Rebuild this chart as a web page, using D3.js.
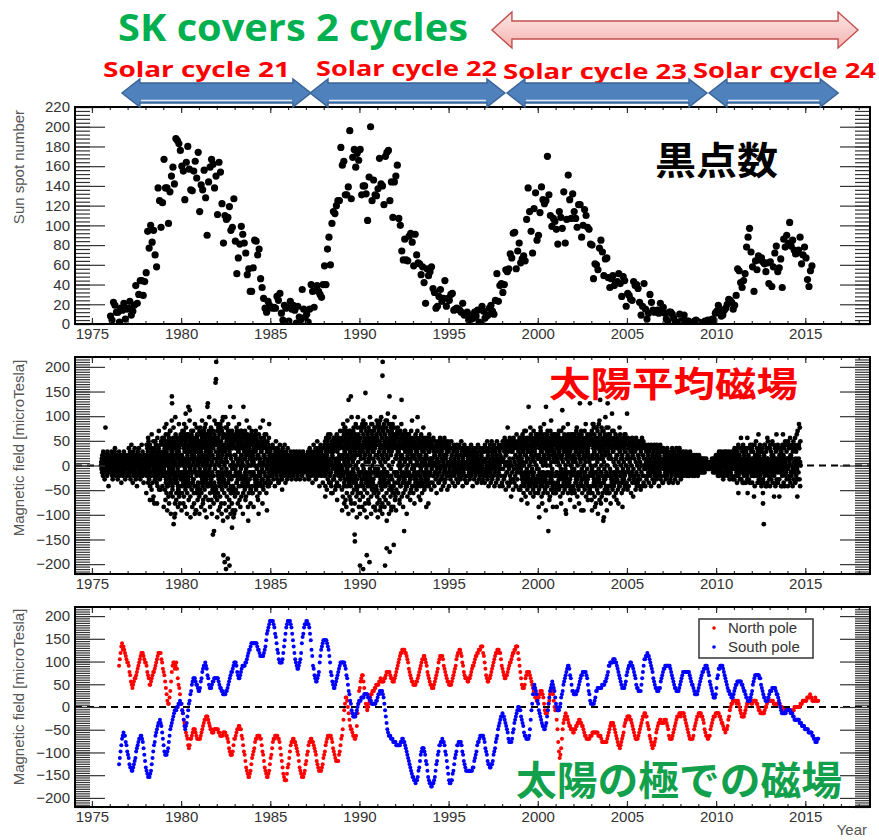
<!DOCTYPE html>
<html>
<head>
<meta charset="utf-8">
<script src="https://cdn.jsdelivr.net/npm/d3@7"></script>
<style>
  body { margin: 0; background: #fff; }
  svg { display: block; }
  .tick text { font-family: "Liberation Sans", Arial, sans-serif; font-size: 15px; fill: #333; }
  .tick line { stroke: #333; stroke-width: 1.2; }
</style>
</head>
<body>
<svg id="chart" width="879" height="840"></svg>
<script>
// ---------------- data ----------------
const yearTicks = [1975, 1980, 1985, 1990, 1995, 2000, 2005, 2010, 2015];

// Monthly sunspot number, one row per year starting 1976
const sunspotFirstYear = 1976;
const sunspotMonthly = [
  [8, 4, 22, 19, 12, 12, 2, 16, 14, 21, 5, 15],
  [16, 23, 9, 13, 19, 39, 21, 30, 44, 44, 29, 43],
  [52, 94, 77, 100, 83, 95, 70, 58, 138, 125, 98, 123],
  [167, 138, 138, 102, 134, 150, 159, 142, 188, 186, 183, 176],
  [160, 155, 126, 164, 180, 157, 136, 135, 155, 165, 148, 174],
  [114, 141, 136, 156, 128, 90, 144, 159, 167, 162, 138, 150],
  [111, 164, 154, 122, 82, 110, 106, 108, 119, 95, 98, 127],
  [84, 51, 67, 81, 99, 91, 82, 72, 50, 56, 33, 33],
  [57, 85, 84, 70, 76, 46, 37, 26, 16, 12, 23, 19],
  [17, 16, 17, 16, 28, 24, 31, 11, 4, 19, 16, 17],
  [3, 23, 15, 19, 14, 1, 18, 7, 4, 35, 15, 7],
  [10, 2, 15, 40, 33, 17, 34, 39, 33, 30, 27, 40],
  [59, 40, 76, 88, 60, 102, 114, 112, 120, 125, 125, 179],
  [161, 165, 131, 131, 139, 196, 127, 169, 177, 159, 173, 166],
  [177, 131, 140, 140, 132, 105, 149, 200, 125, 146, 131, 130],
  [137, 168, 142, 140, 121, 170, 174, 176, 125, 144, 108, 144],
  [150, 161, 107, 100, 74, 65, 86, 65, 64, 89, 92, 83],
  [59, 91, 70, 62, 61, 50, 58, 42, 21, 56, 49, 53],
  [58, 36, 32, 16, 18, 28, 35, 23, 26, 44, 18, 26],
  [24, 30, 31, 14, 15, 16, 15, 14, 12, 21, 9, 10],
  [12, 4, 9, 5, 6, 12, 8, 14, 2, 1, 18, 13],
  [6, 8, 9, 16, 19, 13, 10, 24, 51, 23, 39, 41],
  [32, 40, 55, 53, 56, 71, 67, 92, 93, 56, 74, 82],
  [62, 66, 69, 64, 106, 138, 114, 94, 72, 117, 133, 85],
  [90, 113, 139, 126, 122, 125, 170, 131, 110, 99, 107, 104],
  [96, 81, 114, 108, 97, 134, 82, 106, 151, 126, 107, 132],
  [114, 107, 98, 121, 121, 88, 100, 116, 110, 98, 96, 81],
  [80, 46, 61, 60, 55, 77, 85, 73, 49, 66, 67, 47],
  [37, 46, 49, 39, 42, 43, 51, 41, 28, 48, 44, 18],
  [31, 29, 25, 24, 43, 39, 40, 36, 22, 9, 18, 41],
  [15, 5, 11, 30, 22, 14, 12, 13, 14, 11, 21, 14],
  [17, 11, 5, 3, 12, 12, 10, 6, 2, 1, 2, 10],
  [3, 2, 9, 3, 3, 3, 1, 1, 1, 3, 4, 1],
  [2, 1, 1, 1, 3, 3, 4, 0, 4, 5, 4, 11],
  [13, 19, 15, 8, 9, 14, 16, 20, 25, 24, 22, 15],
  [19, 29, 56, 54, 42, 37, 44, 51, 78, 88, 97, 73],
  [58, 33, 64, 55, 69, 65, 67, 63, 61, 53, 62, 41],
  [63, 38, 58, 72, 79, 53, 57, 66, 37, 86, 78, 90],
  [82, 103, 79, 85, 75, 71, 72, 75, 88, 61, 70, 78],
  [67, 45, 38, 54, 59]
];

// Field values packed one character per sample: value = (index in alphabet - 31) * 7 microTesla
const codeAlphabet = "0123456789ABCDEFGHIJKLMNOPQRSTUVWXYZabcdefghijklmnopqrstuvwxyz";
const codeZero = 31, codeStep = 7;

// Mean solar magnetic field, one entry per calendar year from 1975 (record 1975.5 - 2014.75).
// "|" separates interleaved sample runs that each span the whole year.
const meanFieldFirstYear = 1975, meanFieldStart = 1975.5, meanFieldEnd = 2014.75;
const meanField = [
  "VWUXTYVSZWUVXRWYgVTUXWSZVYUPWVXT",
  "WVXUTYZWSVRXWUVYTZaWVSUXWTVYRXVUWZSTVXYWUQVWTXSVYUZWVTXRWVUYSXWV",
  "XVWTaUYSZVRWXbUTVYQWZSVXUaTWVRYXSPWVZUXTaVWSYRVXUWbTVZSWXQVYUTWV",
  "WUXYbSVaTZQWcVRXUbPYWVSaOTZXLVWcUYSKaVTXRbWZQVUdYSWTaVOXZRWbVUcTYSWPVXZ|NdLeMcKfOd|XSYTaQZRbPXTYS",
  "XbUdTVaOcWSeRZNXbVPcYTaMWdUSbQXfVNYcTZpnWOaUdSEXbRVcKHWeTaNYbVQdUXOcSZaMWbTVdRXc|JgLhIeKfHiMgGjLdJhKe|XSYTaQZRbPXTYSaRbQZPXTYSaQbRZSYPOcNdPb",
  "YcTeNWbPdVRfMXaSeUcOkWZQdTbNVeRXmaPWcTlUdMZbSVeOXcQaTfRWdNYbUHcVPaXIdSZeTWbQVcNX|IfKhJgHeLiGfJdKhIgLe|SYTXQaRZPbTXSYRaQbPZSXTYQaRbPZTXNdOcPb",
  "aMfUcOWeSZbNXdQfTVcLYeRWbOgUdMaXSeQVcTmWnbPZfSdUXaNeVRcYLbWdTOfBaSXcCQeVUbMtZuzdW|HgJiKfIhGeLjJgHfKiMh|YTXSZQaRPbYSXTQZRaPbYTXSaQZRbPYSOcNdPbOc",
  "bLfTdNYgRcVPeXaMhSWcKbUfOZdQjW5eRbNV3aTgPX1dUcMWeQ4fSbOYdL2aTmVcNXeRbKfUaPWdSjVcOY|GfIhJgHiFeKjIgGhJfHeDIGH|XSYTaQZRbPXTYSaRbQZPXTYSaQbRZSYPNdOcPbNd",
  "cMeUaOXdQVfSbNWcRZeTaLXdPVfUbMYcSWeQaNmVdRXbOfTZcMUaSdPWeQbFVcNYaRXdTbOVeSZcPW|IgKhJfHeLiJgKf|SYTXQaRZPbTXSYRaQbPZSXTYQaRbPZTXOcNd",
  "bNdTWaPcVReSZbOXdUaMYcQVHeTbNWaSXdPZcUVbRiaOWdTYcQVbSXeNaUZcPWbRVdTXaQY|JfLgKeIh|YTXSZQaRPbYSXTQZRaPbYTXSaQZRbPYS",
  "ZQaUWXSVbTYRWaUVPXZTcVSWYRaUXVQZWTbYVSWUXROZaVTYWSXbUVQWZTVYRXaU|XSYTaQZRXTYS",
  "WUXVTYSWVZUXRVWYTUXSZVWUYTXVRWZUVXSYWTUVXZRWYVUTXWSVYZUWXTVRWXYV",
  "VWUXTYSZVWRXUaVTYWSZXVUQWYTbXVSZWUaRXVYTcWZSUaVXPYWTbVZSXUaWQYVT",
  "XaSbUcPWZdTVOaXcRbWUdQZVaSeXTbPWcVYNaUZdRXbSVcOWaTdUeQZbVXcSWdPYaUbRXcTV|MeNdLf|XSYTaQZRbPXTYS",
  "bOdUfMXcSaePWgTZdLVbRfYNcUaPeWToQdXMbVfSZpcKYeRaNdWUfTbOXcB9aSeQVdMYbRgUcPWeTaNZ|IhKgJiHfLjIgKhGjJ|XSYTaQZRbPXTYSaRbQZPXTYSaQbRZSYPOcNdPb",
  "cL2gTdNXfRbPhVaM1eUcSgOYdKqWbQfT5cNZeRaLgWdP3bUfSXcMhTaOeVbQdRZfNWcJaUgSYdPeTbM|HgJiIhGfKjHhJgIi|SYTXQaRZPbTXSYRaQbPZSXTYQaRbPZTXNdOcPbOc",
  "dKhUbNfSZgLcQiWeJaTgOVdKvzXfRbMhUcPe2WaLgSdN7iTbQfXcKhVaOp6eSdMgUbJZfRcPhWaNe8dTgQbL|GhIjHgJiFkHhIgJj|YTXSZQaRPbYSXTQZRaPbYTXSaQZRbPYSOcNdPbNd",
  "cMeTaOXdQfSZbNVeRcLWaUfPYdSoMbVeQXcNaTCdRWfOZbSeUcPaMdVXbQeTZcNaRWdOfSXbUPcV|IgKhJfHeLi|XSYTaQZRbPXTYSaRbQZPXTYSaQbRZSYP",
  "bNdUaPXcRVeSZbOWdTjaQYcMVbSXdPaUeRWcNZbTVdQXaOcSWbRYdUPaVcTXbKZdSaWcQVb|KfLgJe|SYTXQaRZPbTXSYRaQbPZSXTYQaRbPZTX",
  "aOcUWbQXVdSZaPTYcVRWbNUXaSZcQVWbTYdRUaOXZcSVbPWaTYdQUcRXVbSZaOWcTV|XSYTaQZRXTYS",
  "ZPbUWaRXVcSYTaQWVZUbSXPaVWTYRbUZVQaXSWbTVYRaUcWSZVPXaTYUbRWVZSaQ",
  "YQaUWXSZVTaRWYUVbSXTZVPWaUYRXVTZSWaUVQYXTbWVRZUXSaVTWYQVZURXaWST",
  "ZQbUWaSXVTcRZYUPaWVSbXTQZVcURYWaSVXbPTZWaUQYVcSXRaWTbVZPUYaSXWbQ",
  "aPcUXbRWZdSVaOYcTWbQgVZcPUaXdSWbRMaVcTZbOXdUaQWcSYbPVeTaRXcUZbOWdV|XSYTaQZRbPXT",
  "bOdUaPXcRWeSZbNVdTcQYaMfWbRUdOZcSXmaPVdTbNWeRZcQUaSdOXfTbPWcNYaReVdQUbX|LfKgMe|YTXSZQaRPbYSXTQZRaPbYTXSaQZRbPYS",
  "cNeUbOGdRXaPfSWcMZeTbQVdNaXcRYeOWbSmdPVaTeNZcCbQXdSaMVfRcOWbTeUaPdNXcQZbSWeOY|JgKhIfLiJe|XSYTaQZRbPXTYSaRbQZPXTYSaQbRZSYPOcNd",
  "bNdTaPXcQWeSZbOVdRaMYcUfPXbSlaNWdTcQZeORbUVcHaSXdPZbNeWcTaQYdRbOVeSXcNaUdPWb|JfKgIhLe|SYTXQaRZPbTXSYRaQbPZSXTYQaRbPZTXNdOc",
  "cOeUbNXdQWaRfSZcMVbTeOYdPaXncSWbQIeUaNZdRXcPVbSfOaTWdMYcQbUeRZaNXdSWcOnbTVeP|JgKfIhLe|YTXSZQaRPbYSXTQZRaPbYTXSaQZRbPYSOcNd",
  "dLfUbNhSXcPgRZeMaVdTbKgQYcOWfSaNdUhRbLXeoPZcTVgMaSdNXbFfQWcUaOeRYdLbTgPVcSnZeNaXd|IhJgHiKfGjIg|XSYTaQZRbPXTYSaRbQZPXTYSaQbRZSYPNdOcPb",
  "cNeUbPXdRaSkfOZcTWbMdQVaSeNXcRbUYdOaKWcTbPZeSdQVaNcXbRUdOWaTeSZcPbVdQX|KfLgJe|SYTXQaRZPbTXSYRaQbPZSXTYQaRbPZTX",
  "kbOdUaPXcRWaSZbNVcTdQYaMUbRXcSZaOWdTbPVaQYcSXbUaRWcOZbTVdPaSYcQXbUV|YTXSZQaRPbYS",
  "aPbUWZRXVaSYTbQWVZUaSXPbVWTYRaUZVQbXSWaTVYRbUZWSXVPaYTUbRWXZSVaQ",
  "ZQaUWXSYVTZRWYUVaSXTZVQWYUXRYVTZSWaUVQYXTZWVRYUXSaVTWYQVZUSXaWTV",
  "YRZUWXSYVTZSWXUVYTXUZVSWYUXSXVTYSWZUVTYXUXVSYWTUXVYSWTUVXYTUWVSX",
  "XTYUWXTVWUXTVWUXVTWUVXTWUVWUXVUWVUVWUVWVUWVUVWVUWXVUWTVXUWTVXWUY",
  "XTYUWYSXVTZSWXUVYTZUXVSWYRXVTZSWYUVTZXUWVSYXTZUWRVYXTUWZSVXYRWUZ",
  "ZRaUWYSXVTaQWZUVbSXTYVRWaUdRXVTZQWbUVSYXTaWVQZUXSaVNTWYRVaUQXbWTVZS|Nd|XSYTaQZRXT",
  "aQbUWZSXVTbPWYUVcSXTaVQWZUXRYVTbSWaUVPZXTaWKVQEYUXSbVTWZPVaUQXcWSTVaR|MeNd|XSYTaQZRbPXT",
  "aPbUWZRXVTcQWYUVbSXTaVPWZUeRXVTbQWaUVMYXTaWVPZUXSbVTWYQVaUPXcWSTVZRbU|Me|SYTXQaRZPbTX",
  "bPcUXaRWVdQYTbSXVaPZUcRWbTVdQXaSWeUMfVbTXhaRgWcV|XSYTaQZRbP"
];

// Polar fields, one string per calendar year from 1976 (record 1976.5 - 2015.75)
const polarFirstYear = 1976, polarStart = 1976.5, polarEnd = 2015.75;
const northPole = [
  "ikmopnonmlkj",
  "jigfdcbcdeefghijklmmmlkj", "jigfeccdefgghijklmmmmkjh", "gfdbZXWWYadgijjhijhecbZW",
  "WUTRQPNMLJIJLLMNOOONMLLL", "LLMNOPQRRSSSRQPOONNNOOOO", "OONNMMMMNNNNMMLKIHGGGHJL",
  "LMNOOPPOOMLJHGECBA99ABDF", "GHIKLLMMMMLLJHGECBA99ABD", "FGIKLLMMMMLLKIGECA9888AC",
  "DFHJKKLLKKJIHGECBA999ABD", "EGHJKKLLKKJIHGEDCBBBBCDF", "GHJKLMMMMMLKIHGFEEEEGHJL",
  "MORUWYYXVTRPOONMMLLMPTWa", "bdeffdbZWVUVWXYZZaaabbcc", "ccddeddddeefgggggfeeddde",
  "fghijklmmnnnnmmlkjhgfedd", "ccccddefghijkkllkjigfedc", "cbbbcdefghjkllllkihgfedd",
  "ccccdefghiklmmnnmljigfee", "eddeefghiijkllmmnnnoooml", "jhfeddeefghijklmmnnnmmki",
  "hgfeeffghijjklmmnnooomki", "gecbbbcefggggfedcbaZYYXX", "YYZaaaZYWUTTTUWXZaaaZXVU",
  "UROKHFGILOQRSTSSRQPPOOON", "NOOPPQQRRQQPPONMMLLLLLMM", "MNNNNNNNNMMMMLKKKKKKKLMN",
  "OPQQQQPONMLKJJIJKLMNPQRR", "SSSSRRQPONMLLLLMNOPQRSST", "TSSQPOMLKJIJJKLNOPQQRRQQ",
  "QQRRRQPOMLLLLMNOPQRSSSTT", "STTTTSRQPONMLLLLLMOPQRSS", "TTTTSSRQONMMLLMMOPQRSSST",
  "TTTTSSRQQPOONOOPRSUVWWXX", "XXXWXXWVUTSSSSTUVWWXXXXW", "WXXXXXWWVUUTTTTTTUVVWXXX",
  "XXXXXWWWWWWWWWVVVUUUUUUU", "UUUUUUUUUVVVVVVVVWWWXXXX", "XXYYYYZYYXXXXYXXXX"
];
const southPole = [
  "DFHJLMNMMKJH",
  "GFDCCBBCDEFHIJKLLMMLKIGE", "CBA999ABDFHJKMNOPQQRQPNL", "JHGGGHIKMOPQRSTUUUVVWWXW",
  "WUTRPOPQSUWXZacdeeedccba", "abdeghiijihfecbbbcddeeee", "eedcbbaaZZZZaabcdefgghij",
  "jjigfeefghiiiijjklmnnopp", "pppppponnmlllllmnoqstuvw", "wwwwvusrpnmkjjjjkmoqsuvw",
  "wwwvusqomkjihhijkmprsuvv", "wwvvusqnlihfeddefgjlnopq", "qqqqponljgfdcbbcdefghijj",
  "jjjjihfecaZXWUTSSSSTUVWX", "XXYYYYZZZZZYYYXXWWWWWWXX", "YZZaaaaZYWUSQONMMMLLLKKK",
  "KJJJJJJKKLLKKJIHGFEDCBA9", "9887889BCEGHIIIHGEDB9877", "667789BDEGHJJKKLKKJHGECA",
  "87788ABDFGHJJKKKKJHGEDCB", "BBBBBBBBCCEFGHJKKLMMMMML", "KIHGEDDCCDDEGHIKLMOPQRSS",
  "TSSRQPONLKKKKLNOQRSTUVVU", "USRQPNMMLLLLMORUWZbcbaZX", "WUTSRQPPOOPQSUWYabcdcbaY",
  "WVUUUVWYZacdefghiihfecaa", "ZZZZaabcdeffgggggfecaZXW", "WWWWXYaabbbbbbccccddefgi",
  "ijjjjkkkjjihgfedcbbbbcdf", "ghiijjiihgfecbbaaaacegik", "kllmllkjihgedcbbaaabbdef",
  "ghhiiiiiiihgfedcbbaaaabc", "defgggggggggfedccbaZZZZa", "bcdefgghhiiihgfdcbaZYYYZ",
  "befhhiiiihgfedcbaaZZYYYZ", "abccddddddccbaaZYYXXXXYZ", "acdeffffffeecbaZYYXXXXYZ",
  "aaabbbbbaZZYXWVUTTTTTTUU", "UUUUTTTSSRRRRRRRQQQPPPPO", "OOOONNNNNMMLLKKKLL"
];

// Header annotations: solar cycle spans in years
const cycleNames = ["Solar cycle 21", "Solar cycle 22", "Solar cycle 23", "Solar cycle 24"];
const cycleSpans = [[1976.68, 1987.28], [1987.23, 1998.16], [1998.27, 2009.49], [2009.6, 2016.85]];
const skSpan = [1997.43, 2017.96];
const legendNames = ["North pole", "South pole"];

// ---------------- helpers ----------------
const decode = ch => (codeAlphabet.indexOf(ch) - codeZero) * codeStep;

// Each run of characters is spaced evenly across its year (clipped to the record span)
function spreadByYear(firstYear, start, end, entries) {
  const pts = [];
  entries.forEach((entry, k) => {
    const y0 = Math.max(firstYear + k, start), y1 = Math.min(firstYear + k + 1, end);
    entry.split("|").forEach(s => {
      for (let i = 0; i < s.length; i++) {
        pts.push({ t: y0 + (i + 0.5) * (y1 - y0) / s.length, v: decode(s[i]) });
      }
    });
  });
  return pts;
}

const sunspots = [];
sunspotMonthly.forEach((row, k) => row.forEach((v, m) =>
  sunspots.push({ t: sunspotFirstYear + k + (m + 0.5) / 12, v })));
const meanPts = spreadByYear(meanFieldFirstYear, meanFieldStart, meanFieldEnd, meanField);
const northPts = spreadByYear(polarFirstYear, polarStart, polarEnd, northPole);
const southPts = spreadByYear(polarFirstYear, polarStart, polarEnd, southPole);

// ---------------- layout ----------------
const svg = d3.select("#chart");
const x = d3.scaleLinear().domain([1974.05, 2018.63]).range([75, 870]);
const [xl, xr] = x.range();
const yearMinor = d3.range(1975, 2019);

const panels = [
  { top: 107, bottom: 324, domain: [0, 220], major: d3.range(0, 221, 20), minor: d3.range(0, 221, 4),
    title: "Sun spot number", titleY: 167 },
  { top: 357, bottom: 574, domain: [-220, 220], major: d3.range(-200, 201, 50), minor: d3.range(-220, 221, 5),
    title: "Magnetic field [microTesla]", titleY: 448 },
  { top: 607, bottom: 807, domain: [-220, 220], major: d3.range(-200, 201, 50), minor: d3.range(-220, 221, 5),
    title: "Magnetic field [microTesla]", titleY: 697 }
];
panels.forEach(p => { p.y = d3.scaleLinear().domain(p.domain).range([p.bottom, p.top]); });

const defs = svg.append("defs");
panels.forEach((p, i) => {
  defs.append("clipPath").attr("id", "clip" + i)
    .append("rect").attr("x", xl).attr("y", p.top).attr("width", xr - xl).attr("height", p.bottom - p.top);
});

function drawAxes(p) {
  const g = svg.append("g");
  const add = (gen, tx, ty) => g.append("g").attr("transform", `translate(${tx},${ty})`)
    .call(gen).call(s => s.select(".domain").remove());
  add(d3.axisLeft(p.y).tickValues(p.minor).tickSize(-15).tickFormat(""), xl, 0);
  add(d3.axisLeft(p.y).tickValues(p.major).tickSize(-30).tickPadding(5), xl, 0);
  add(d3.axisRight(p.y).tickValues(p.minor).tickSize(-15).tickFormat(""), xr, 0);
  add(d3.axisRight(p.y).tickValues(p.major).tickSize(-30).tickFormat(""), xr, 0);
  add(d3.axisBottom(x).tickValues(yearMinor).tickSize(-3).tickFormat(""), 0, p.bottom);
  add(d3.axisBottom(x).tickValues(yearTicks).tickSize(-6).tickPadding(4.5).tickFormat(d3.format("d")), 0, p.bottom);
  add(d3.axisTop(x).tickValues(yearMinor).tickSize(-3).tickFormat(""), 0, p.top);
  add(d3.axisTop(x).tickValues(yearTicks).tickSize(-6).tickFormat(""), 0, p.top);
  svg.append("rect").attr("x", xl).attr("y", p.top).attr("width", xr - xl).attr("height", p.bottom - p.top)
    .attr("fill", "none").attr("stroke", "#000").attr("stroke-width", 2);
  svg.append("text")
    .attr("transform", `translate(24,${p.titleY}) rotate(-90)`)
    .attr("text-anchor", "middle")
    .attr("font-family", "'Liberation Sans', Arial, sans-serif").attr("font-size", 15).attr("fill", "#555")
    .text(p.title);
}

function zeroLine(p) {
  svg.append("line").attr("x1", xl).attr("x2", xr).attr("y1", p.y(0)).attr("y2", p.y(0))
    .attr("stroke", "#000").attr("stroke-width", 2).attr("stroke-dasharray", "7,5");
}

function dots(p, i, data, r, color) {
  svg.append("g").attr("clip-path", `url(#clip${i})`)
    .selectAll("circle").data(data).join("circle")
    .attr("cx", d => x(d.t)).attr("cy", d => p.y(d.v)).attr("r", r).attr("fill", color);
}

// Panel 1: sunspot number
dots(panels[0], 0, sunspots, 3.6, "#000");
drawAxes(panels[0]);

// Panel 2: mean solar field
zeroLine(panels[1]);
dots(panels[1], 1, meanPts, 2.4, "#000");
drawAxes(panels[1]);

// Panel 3: polar fields
zeroLine(panels[2]);
dots(panels[2], 2, northPts, 2.0, "#ff0000");
dots(panels[2], 2, southPts, 2.0, "#0000ff");
drawAxes(panels[2]);

// Legend
const lg = svg.append("g");
lg.append("rect").attr("x", 699).attr("y", 619).attr("width", 114).attr("height", 39)
  .attr("fill", "#fff").attr("stroke", "#333").attr("stroke-width", 1.5);
[["#ff0000", 628], ["#0000ff", 647]].forEach(([c, yy], i) => {
  lg.append("circle").attr("cx", 714).attr("cy", yy).attr("r", 1.8).attr("fill", c);
  lg.append("text").attr("x", 728).attr("y", yy + 5)
    .attr("font-family", "'Liberation Sans', Arial, sans-serif").attr("font-size", 15).attr("fill", "#333")
    .text(legendNames[i]);
});

svg.append("text").attr("x", 867).attr("y", 835).attr("text-anchor", "end")
  .attr("font-family", "'Liberation Sans', Arial, sans-serif").attr("font-size", 15).attr("fill", "#555")
  .text("Year");

// Japanese panel captions
const jp = "'Noto Sans CJK JP', sans-serif";
svg.append("text").attr("x", 655).attr("y", 174).attr("font-family", jp).attr("font-weight", 700)
  .attr("font-size", 38).attr("fill", "#000").attr("textLength", 123).attr("lengthAdjust", "spacingAndGlyphs")
  .text("黒点数");
svg.append("text").attr("x", 549).attr("y", 397).attr("font-family", jp).attr("font-weight", 700)
  .attr("font-size", 35).attr("fill", "#ff0000").attr("textLength", 249).attr("lengthAdjust", "spacingAndGlyphs")
  .text("太陽平均磁場");
svg.append("text").attr("x", 516).attr("y", 795).attr("font-family", jp).attr("font-weight", 700)
  .attr("font-size", 40).attr("fill", "#12a04c").attr("textLength", 326).attr("lengthAdjust", "spacingAndGlyphs")
  .text("太陽の極での磁場");

// ---------------- header ----------------
function arrowPath(x0, x1, cy, h, H, L) {
  return `M${x0},${cy} L${x0 + L},${cy - H} L${x0 + L},${cy - h} L${x1 - L},${cy - h} L${x1 - L},${cy - H}
          L${x1},${cy} L${x1 - L},${cy + H} L${x1 - L},${cy + h} L${x0 + L},${cy + h} L${x0 + L},${cy + H} Z`;
}

const pink = defs.append("linearGradient").attr("id", "pinkFill").attr("x1", 0).attr("y1", 0).attr("x2", 0).attr("y2", 1);
pink.append("stop").attr("offset", "0%").attr("stop-color", "#fde6e5");
pink.append("stop").attr("offset", "100%").attr("stop-color", "#f4b3b1");

svg.append("path").attr("d", arrowPath(x(skSpan[0]), x(skSpan[1]), 30, 9, 18, 20))
  .attr("fill", "url(#pinkFill)").attr("stroke", "#c0504d").attr("stroke-width", 1.4);

svg.append("text").attr("x", 118).attr("y", 41)
  .attr("font-family", "'Open Sans', sans-serif").attr("font-weight", 700).attr("font-size", 37)
  .attr("fill", "#00b050").attr("textLength", 350).attr("lengthAdjust", "spacingAndGlyphs")
  .text("SK covers 2 cycles");

const labelPos = [[103, 77, 187], [316, 75.5, 181], [503, 79, 184], [693, 78, 183]];
cycleNames.forEach((name, i) => {
  const [lx, ly, lw] = labelPos[i];
  svg.append("text").attr("x", lx).attr("y", ly)
    .attr("font-family", "'Open Sans', sans-serif").attr("font-weight", 700).attr("font-size", 22)
    .attr("fill", "#ff0000").attr("textLength", lw).attr("lengthAdjust", "spacingAndGlyphs")
    .text(name);
});

cycleSpans.forEach(([a, b]) => {
  const x0 = x(a), x1 = x(b);
  svg.append("path").attr("d", arrowPath(x0, x1, 93, 10, 14, 18))
    .attr("fill", "#4f81bd").attr("stroke", "#3a6396").attr("stroke-width", 1.4);
  svg.append("line").attr("x1", x0 + 19).attr("x2", x1 - 19).attr("y1", 100.5).attr("y2", 100.5)
    .attr("stroke", "#fff").attr("stroke-width", 1.6).attr("opacity", 0.85);
});
</script>
</body>
</html>
